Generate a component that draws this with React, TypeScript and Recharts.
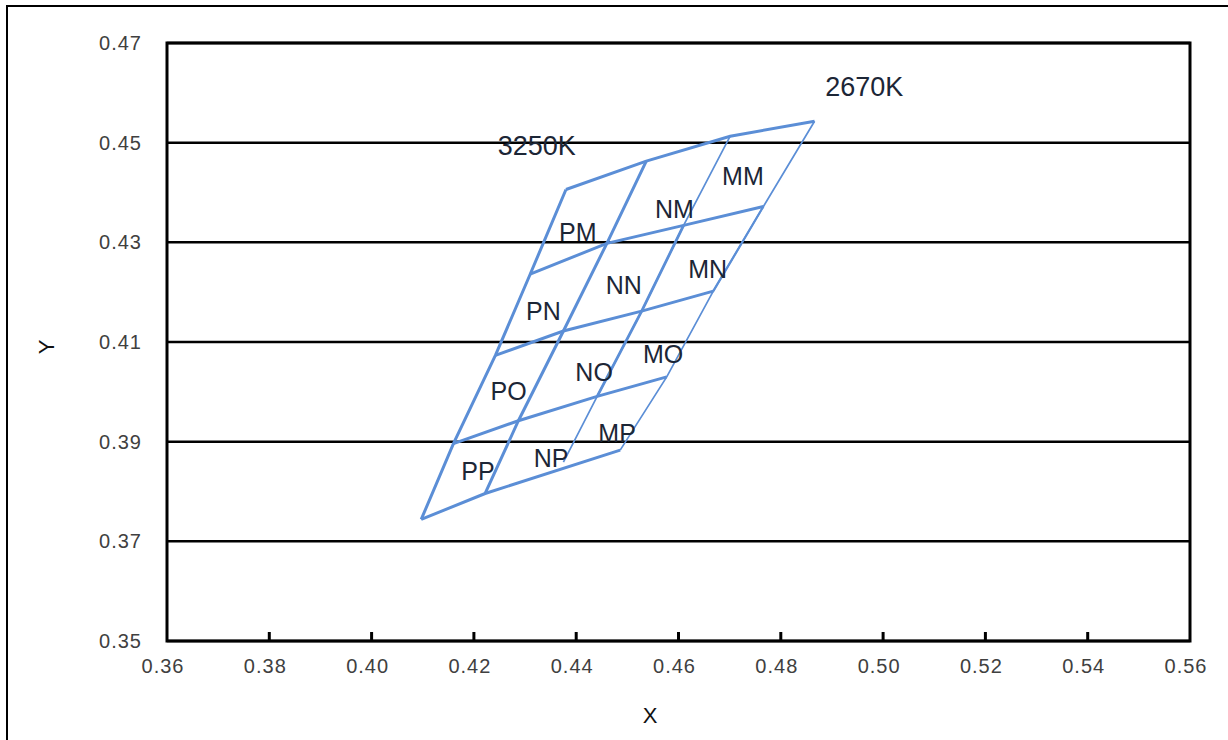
import React from 'react';
import {
  ComposedChart,
  Line,
  Scatter,
  XAxis,
  YAxis,
  CartesianGrid,
  ReferenceArea,
} from 'recharts';

// Quadrangle grid nodes, one array pair per iso-CCT column line (left → right),
// nodes listed from the top row line down to the bottom row line.
const col0X = [0.438, 0.431, 0.4242, 0.416, 0.4097];
const col0Y = [0.4406, 0.4236, 0.4073, 0.3896, 0.3744];
const col1X = [0.4537, 0.446, 0.4375, 0.4287, 0.4222];
const col1Y = [0.4463, 0.4298, 0.4122, 0.3942, 0.3796];
const col2X = [0.4701, 0.461, 0.4528, 0.4441, 0.4375];
const col2Y = [0.4513, 0.4334, 0.4162, 0.3991, 0.3859];
const col3X = [0.4866, 0.4766, 0.4668, 0.4577, 0.4486];
const col3Y = [0.4543, 0.4372, 0.4202, 0.403, 0.3883];

// Cell names and where they sit
const cellNames = ['PM', 'NM', 'MM', 'PN', 'NN', 'MN', 'PO', 'NO', 'MO', 'PP', 'NP', 'MP'];
const cellX = [0.4403, 0.4592, 0.4726, 0.4336, 0.4493, 0.4657, 0.4268, 0.4435, 0.457, 0.4208, 0.4351, 0.448];
const cellY = [0.4321, 0.4366, 0.4433, 0.4162, 0.4214, 0.4246, 0.4001, 0.4039, 0.4075, 0.3841, 0.3868, 0.3917];

// Colour temperature tags at the two ends of the grid
const cctNames = ['3250K', '2670K'];
const cctX = [0.4323, 0.4963];
const cctY = [0.4494, 0.4611];

const xTicks = [0.36, 0.38, 0.4, 0.42, 0.44, 0.46, 0.48, 0.5, 0.52, 0.54, 0.56];
const yTicks = [0.35, 0.37, 0.39, 0.41, 0.43, 0.45, 0.47];

const LINE_COLOR = '#5b8ed6';
const FONT = '"Liberation Sans", Arial, sans-serif';

type Pt = { x: number; y: number };
const zip = (xs: number[], ys: number[]): Pt[] => xs.map((x, i) => ({ x, y: ys[i] }));

const cols = [zip(col0X, col0Y), zip(col1X, col1Y), zip(col2X, col2Y), zip(col3X, col3Y)];

// Row lines join the column nodes at the same level; the bottom row spans col 0, 1 and 3.
const rows: Pt[][] = [0, 1, 2, 3].map((i) => cols.map((c) => c[i]));
rows.push([cols[0][4], cols[1][4], cols[3][4]]);

const cellPoints = cellNames.map((name, i) => ({ x: cellX[i], y: cellY[i], name }));
const cctPoints = cctNames.map((name, i) => ({ x: cctX[i], y: cctY[i], name }));

const XTick = (props: any) => {
  const { x, y, payload } = props;
  const v: number = payload.value;
  const inner = v > 0.3601 && v < 0.5599;
  return (
    <g>
      {inner && <line x1={x} x2={x} y1={y} y2={y - 9} stroke="#000" strokeWidth={3} />}
      <text
        x={x - 4}
        y={y + 25}
        textAnchor="middle"
        dominantBaseline="central"
        fontFamily={FONT}
        fontSize={20}
        letterSpacing={1}
        fill="#404040"
      >
        {v.toFixed(2)}
      </text>
    </g>
  );
};

const YTick = (props: any) => {
  const { x, y, payload } = props;
  const v: number = payload.value;
  return (
    <text
      x={x - 25}
      y={y}
      textAnchor="end"
      dominantBaseline="central"
      fontFamily={FONT}
      fontSize={20}
      letterSpacing={1}
      fill="#404040"
    >
      {v.toFixed(2)}
    </text>
  );
};

const makeLabel = (size: number) => (props: any) => {
  const { cx, cy, payload } = props;
  return (
    <text
      x={cx}
      y={cy}
      textAnchor="middle"
      dominantBaseline="central"
      fontFamily={FONT}
      fontSize={size}
      fill="#1c2636"
    >
      {payload.name}
    </text>
  );
};

const cellLabel = makeLabel(25);
const cctLabel = makeLabel(27);

export default function App() {
  return (
    <div
      style={{
        position: 'absolute',
        left: 0,
        top: 0,
        width: 1228,
        height: 740,
        background: '#fff',
        overflow: 'hidden',
      }}
    >
      <ComposedChart
        width={1228}
        height={740}
        margin={{ top: 43, right: 38, bottom: 0, left: 0 }}
      >
        <XAxis
          type="number"
          dataKey="x"
          domain={[0.36, 0.56]}
          ticks={xTicks}
          interval={0}
          height={99}
          axisLine={false}
          tickLine={false}
          tickSize={0}
          tickMargin={0}
          tick={<XTick />}
          allowDataOverflow
        />
        <YAxis
          type="number"
          dataKey="y"
          domain={[0.35, 0.47]}
          ticks={yTicks}
          interval={0}
          width={167}
          axisLine={false}
          tickLine={false}
          tickSize={0}
          tickMargin={0}
          tick={<YTick />}
          allowDataOverflow
        />
        <CartesianGrid vertical={false} stroke="#000" strokeWidth={2.5} />
        <ReferenceArea
          x1={0.36}
          x2={0.56}
          y1={0.35}
          y2={0.47}
          fill="none"
          fillOpacity={0}
          stroke="#000"
          strokeWidth={3}
        />
        {rows.map((r, i) => (
          <Line
            key={`row${i}`}
            data={r}
            dataKey="y"
            stroke={LINE_COLOR}
            strokeWidth={3}
            dot={false}
            activeDot={false}
            isAnimationActive={false}
          />
        ))}
        <Line data={cols[0]} dataKey="y" stroke={LINE_COLOR} strokeWidth={3} dot={false} activeDot={false} isAnimationActive={false} />
        <Line data={cols[1]} dataKey="y" stroke={LINE_COLOR} strokeWidth={3} dot={false} activeDot={false} isAnimationActive={false} />
        <Line data={cols[2]} dataKey="y" stroke={LINE_COLOR} strokeWidth={1.7} dot={false} activeDot={false} isAnimationActive={false} />
        <Line data={cols[2].slice(1, 4)} dataKey="y" stroke={LINE_COLOR} strokeWidth={2.8} dot={false} activeDot={false} isAnimationActive={false} />
        <Line data={cols[3]} dataKey="y" stroke={LINE_COLOR} strokeWidth={1.7} dot={false} activeDot={false} isAnimationActive={false} />
        <Line data={cols[3].slice(1, 3)} dataKey="y" stroke={LINE_COLOR} strokeWidth={2.2} dot={false} activeDot={false} isAnimationActive={false} />
        <Scatter data={cellPoints} dataKey="y" shape={cellLabel} isAnimationActive={false} />
        <Scatter data={cctPoints} dataKey="y" shape={cctLabel} isAnimationActive={false} />
      </ComposedChart>
      <svg
        width={1228}
        height={740}
        style={{ position: 'absolute', left: 0, top: 0, pointerEvents: 'none' }}
      >
        <line x1={7} y1={5} x2={7} y2={740} stroke="#000" strokeWidth={2} />
        <line x1={6} y1={6} x2={1228} y2={6} stroke="#000" strokeWidth={2} />
        <text
          x={650}
          y={715}
          textAnchor="middle"
          dominantBaseline="central"
          fontFamily={FONT}
          fontSize={22}
          fill="#111"
        >
          X
        </text>
        <text
          x={46}
          y={347}
          textAnchor="middle"
          dominantBaseline="central"
          fontFamily={FONT}
          fontSize={22}
          fill="#111"
          transform="rotate(-90 46 347)"
        >
          Y
        </text>
      </svg>
    </div>
  );
}
